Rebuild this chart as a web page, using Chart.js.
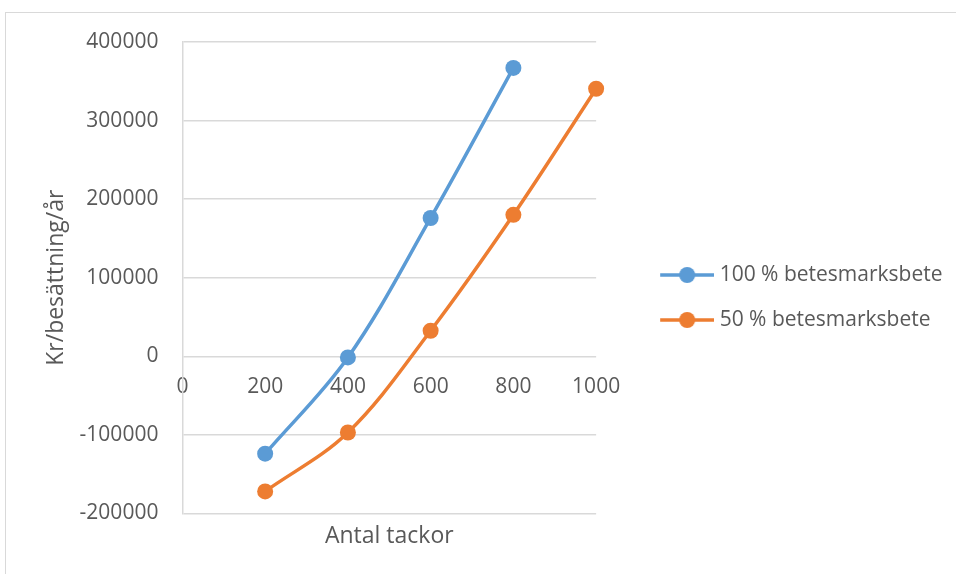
<!DOCTYPE html>
<html><head><meta charset="utf-8">
<script src="https://cdn.jsdelivr.net/npm/chart.js@4"></script>
<style>
html,body{margin:0;padding:0;background:#fff;}
#wrap{position:relative;width:956px;height:574px;overflow:hidden;}
#frame{position:absolute;left:5px;top:12px;width:980px;height:600px;border:1.5px solid #d9d9d9;pointer-events:none;}
canvas{position:absolute;left:0;top:0;}
</style></head><body>
<div id="wrap"><canvas id="c" width="956" height="574"></canvas><div id="frame"></div></div>
<script>
const xValues = [200, 400, 600, 800, 1000];
const series100 = [-124000, -1500, 176000, 367000];
const series50 = [-172000, -97000, 32500, 180000, 340500];
const seriesNames = ['100 % betesmarksbete', '50 % betesmarksbete'];
const seriesColors = ['#5B9BD5', '#ED7D31'];
const xTickValues = [0, 200, 400, 600, 800, 1000];
const yTickValues = [-200000, -100000, 0, 100000, 200000, 300000, 400000];
const xTitle = 'Antal tackor';
const yTitle = 'Kr/besättning/år';

const FONT = "'Open Sans', 'Liberation Sans', sans-serif";
const TEXT = '#595959';
const GRID = '#d9d9d9';

function legendSymbol(color) {
  const c = document.createElement('canvas');
  c.width = 99; c.height = 18;
  const g = c.getContext('2d');
  g.strokeStyle = color; g.lineWidth = 3.5;
  g.beginPath(); g.moveTo(45, 9); g.lineTo(99, 9); g.stroke();
  g.fillStyle = color;
  g.beginPath(); g.arc(72, 9, 8, 0, Math.PI * 2); g.fill();
  return c;
}

function toPoints(vals) { return vals.map((v, i) => ({x: xValues[i], y: v})); }

const ctx = document.getElementById('c').getContext('2d');
new Chart(ctx, {
  type: 'line',
  data: {
    datasets: [series100, series50].map((s, i) => ({
      label: seriesNames[i],
      data: toPoints(s),
      borderColor: seriesColors[i],
      backgroundColor: seriesColors[i],
      borderWidth: 3.5,
      pointRadius: 8,
      pointHoverRadius: 8,
      pointBorderWidth: 0,
      tension: 0.35,
      clip: false,
      fill: false
    }))
  },
  options: {
    responsive: false,
    animation: false,
    events: [],
    layout: {padding: {left: 43, right: 3.5, top: 42, bottom: 10}},
    scales: {
      x: {
        type: 'linear', position: {y: 0}, min: 0, max: 1000,
        afterBuildTicks: s => { s.ticks = xTickValues.map(v => ({value: v})); },
        grid: {display: false, drawTicks: false},
        border: {display: false},
        ticks: {color: TEXT, font: {family: FONT, size: 21}, padding: 18, maxRotation: 0, callback: v => String(v)}
      },
      x2: {
        type: 'linear', position: 'bottom', min: 0, max: 1000,
        grid: {display: false, drawTicks: false},
        border: {display: false},
        ticks: {display: false},
        title: {display: true, text: xTitle, color: TEXT, font: {family: FONT, size: 23}, padding: {top: 9, bottom: 14}}
      },
      y: {
        type: 'linear', min: -200000, max: 400000,
        afterBuildTicks: s => { s.ticks = yTickValues.map(v => ({value: v})); },
        grid: {color: GRID, lineWidth: 1.5, drawTicks: true, tickLength: 24, tickColor: 'rgba(0,0,0,0)'},
        border: {display: true, color: GRID, width: 1.5},
        ticks: {color: TEXT, font: {family: FONT, size: 21}, padding: 0, callback: v => String(v)},
        title: {display: true, text: yTitle, color: TEXT, font: {family: FONT, size: 23}, padding: {top: 0, bottom: 9}}
      }
    },
    plugins: {
      tooltip: {enabled: false},
      legend: {
        position: 'right', align: 'start', maxWidth: 420,
        title: {display: true, text: ' ', font: {size: 10}, padding: {top: 186.5, bottom: 0}},
        labels: {
          color: TEXT, font: {family: FONT, size: 21}, padding: 24,
          usePointStyle: true, pointStyleWidth: 89, boxHeight: 18,
          generateLabels: chart => chart.data.datasets.map((d, i) => ({
            text: d.label, fillStyle: d.borderColor, strokeStyle: d.borderColor,
            lineWidth: 0, pointStyle: legendSymbol(d.borderColor), datasetIndex: i, fontColor: TEXT
          }))
        }
      }
    }
  }
});
</script></body></html>
